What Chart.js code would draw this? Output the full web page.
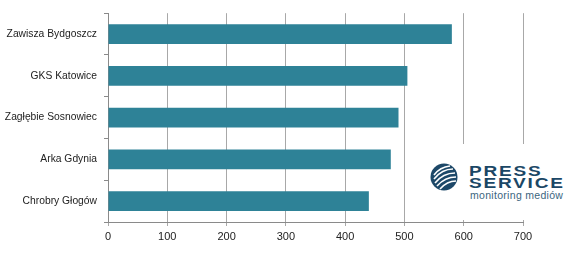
<!DOCTYPE html>
<html>
<head>
<meta charset="utf-8">
<script src="https://cdn.jsdelivr.net/npm/chart.js@4"></script>
<style>
  body { margin: 0; background: #fff; }
  #wrap { position: relative; width: 580px; height: 263px; }
  #logo {
    position: absolute; left: 412px; top: 144px; width: 168px; height: 76px;
    background: #fff; font-family: "Liberation Sans", Arial, sans-serif;
  }
  #logo svg { position: absolute; left: 18px; top: 19px; }
  #logo .big {
    position: absolute; left: 57px; width: 96px; color: #1b4766;
    font-weight: bold; font-size: 14px; line-height: 11px; letter-spacing: 1.3px;
    transform: scaleX(1.36); transform-origin: left top;
  }
  #logo .small {
    position: absolute; left: 58px; top: 46px; color: #3b6580;
    font-size: 10.5px; line-height: 10px; letter-spacing: 0.3px;
  }
</style>
</head>
<body>
<div id="wrap">
  <canvas id="myChart" width="580" height="263"></canvas>
  <div id="logo">
    <svg width="28" height="28" viewBox="0 0 28 28">
      <circle cx="14" cy="14" r="13.5" fill="#1d4868"/>
      <path d="M4 12 Q10 4 20 3" stroke="#fff" stroke-width="1.6" fill="none"/>
      <path d="M4 16 Q12 6 23 6" stroke="#fff" stroke-width="1.6" fill="none"/>
      <path d="M5 20 Q13 10 25 10" stroke="#fff" stroke-width="1.6" fill="none"/>
      <path d="M7 23 Q15 14 26 14" stroke="#fff" stroke-width="1.6" fill="none"/>
      <path d="M10 26 Q17 18 26 18" stroke="#fff" stroke-width="1.6" fill="none"/>
    </svg>
    <div class="big" style="top:22px">PRESS</div>
    <div class="big" style="top:34px">SERVICE</div>
    <div class="small">monitoring mediów</div>
  </div>
</div>
<script>
const clubs = ["Zawisza Bydgoszcz", "GKS Katowice", "Zagłębie Sosnowiec", "Arka Gdynia", "Chrobry Głogów"];
const counts = [580, 505, 490, 477, 440];
const xMax = 700;
const xStep = 100;

const ctx = document.getElementById("myChart").getContext("2d");

const chart = new Chart(ctx, {
  type: "bar",
  data: {
    labels: clubs,
    datasets: [{
      data: counts,
      backgroundColor: "#2e8297",
      borderWidth: 0,
      barPercentage: 0.47,
      categoryPercentage: 1,
    }],
  },
  options: {
    indexAxis: "y",
    responsive: false,
    animation: false,
    layout: { padding: { top: 13, right: 57, bottom: 0, left: 0 } },
    plugins: { legend: { display: false }, tooltip: { enabled: false } },
    scales: {
      x: {
        min: 0,
        max: xMax,
        ticks: {
          stepSize: xStep,
          color: "#222",
          padding: 4,
          font: { family: "Liberation Sans", size: 11 },
        },
        grid: { color: "#a8a8a8", tickLength: 4, lineWidth: 1 },
        border: { color: "#8a8a8a" },
        afterFit: (scale) => { scale.height = 41; },
      },
      y: {
        ticks: {
          color: "#222",
          padding: 7,
          font: { family: "Liberation Sans", size: 10.3 },
        },
        grid: { drawOnChartArea: false, tickLength: 4, color: "#8a8a8a", offset: true },
        border: { color: "#8a8a8a" },
        afterFit: (scale) => { scale.width = 108; },
      },
    },
  },
});
</script>
</body>
</html>
